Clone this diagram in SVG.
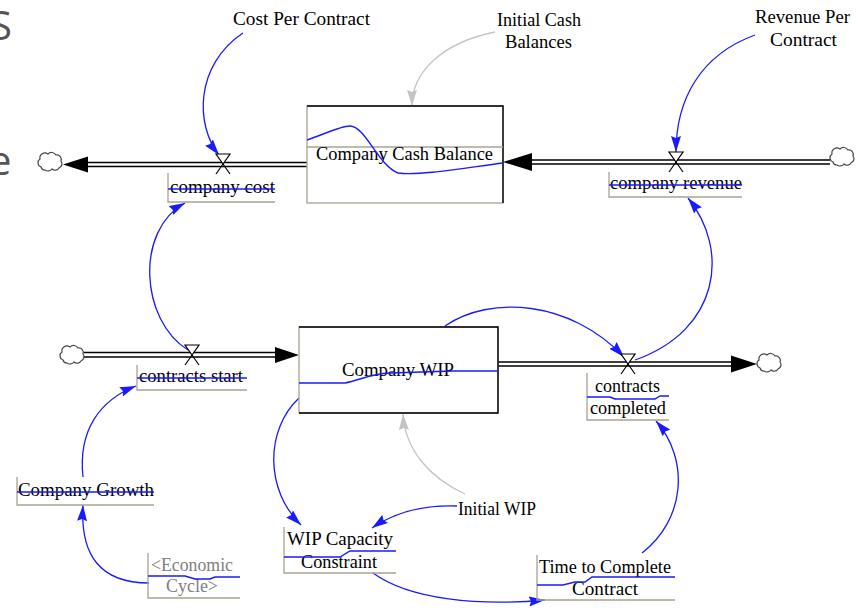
<svg xmlns="http://www.w3.org/2000/svg" xmlns:xlink="http://www.w3.org/1999/xlink" width="862" height="608" viewBox="0 0 862 608">
  <style>
    text.lbl { font-family: 'Liberation Serif', 'DejaVu Serif', serif; font-size: 18px; fill: #000; }
    text.ghost { fill: #808080; }
    text.edge { font-family: 'Open Sans', 'Noto Sans', sans-serif; font-size: 40px; fill: #555; }
    .box { fill: none; stroke: #a8a490; stroke-width: 1.3; }
    .strike { fill: none; stroke: #1a1aff; stroke-width: 1.4; }
    .link { fill: none; stroke: #1a1aff; stroke-width: 1.3; }
    .init { fill: none; stroke: #c4c4c4; stroke-width: 1.3; }
    .pipe { fill: none; stroke: #000; stroke-width: 1.6; }
    .valve { fill: #fff; stroke: #000; stroke-width: 1.2; }
    .cloud { fill: #fff; stroke: #444; stroke-width: 1.2; }
  </style>
  <defs>
    <marker id="ab" viewBox="0 0 16 10" refX="16" refY="5" markerWidth="16" markerHeight="10" markerUnits="userSpaceOnUse" orient="auto">
      <path d="M0,0 L16,5 L0,10 L2,5 z" fill="#1a1aff"/>
    </marker>
    <marker id="ag" viewBox="0 0 16 10" refX="16" refY="5" markerWidth="16" markerHeight="10" markerUnits="userSpaceOnUse" orient="auto">
      <path d="M0,0 L16,5 L0,10 L2,5 z" fill="#c4c4c4"/>
    </marker>
    <path id="cloudShape" class="cloud" d="M-9,5 a4.5,4.5 0 0 1 -1,-8 a5,5 0 0 1 8,-5 a5,5 0 0 1 8,1 a4.5,4.5 0 0 1 5,6 a4.5,4.5 0 0 1 -2,7 a4.5,4.5 0 0 1 -7,1 a5,5 0 0 1 -7,1 a4,4 0 0 1 -4,-3 z"/>
    <g id="valveShape">
      <path class="valve" d="M-7,-10 H7 L0,0 Z"/>
      <path class="valve" d="M0,0 L-7,10 M0,0 L7,10"/>
    </g>
  </defs>

  <rect width="862" height="608" fill="#fff"/>

  <!-- clipped slide lettering at the left margin -->
  <text class="edge" x="-10" y="40">S</text>
  <text class="edge" x="-11" y="175">e</text>

  <!-- flows, information links and initial-value links -->
  <g id="connectors">
    <!-- company cost: stock to sink -->
    <path class="pipe" d="M307,162.5 H86 M307,166.5 H86"/>
    <path d="M63,164.5 L88,156.5 L88,172.5 z" fill="#000"/>
    <!-- company revenue: source to stock -->
    <path class="pipe" d="M830,160 H530 M830,164 H530"/>
    <path d="M503,162 L532,153 L532,171 z" fill="#000"/>
    <!-- contracts start: source to stock -->
    <path class="pipe" d="M84,352.5 H277 M84,357 H277"/>
    <path d="M299,355 L275,347 L275,363 z" fill="#000"/>
    <!-- contracts completed: stock to sink -->
    <path class="pipe" d="M498,362 H733 M498,366 H733"/>
    <path d="M757,364 L731,355.5 L731,372.5 z" fill="#000"/>

    <path class="link" marker-end="url(#ab)" d="M243,33 C195,65 195,125 219,155"/>
    <path class="init" marker-end="url(#ag)" d="M495,32 C445,42 412,70 412,106"/>
    <path class="link" marker-end="url(#ab)" d="M755,35 C700,55 676,100 676,152"/>
    <path class="link" marker-end="url(#ab)" d="M188,350 C140,320 135,230 185,203"/>
    <path class="link" marker-end="url(#ab)" d="M83,477 C78,430 100,400 136,386"/>
    <path class="link" marker-end="url(#ab)" d="M149,583 C100,583 80,555 83,505"/>
    <path class="link" marker-end="url(#ab)" d="M445,326 C490,295 570,300 624,357"/>
    <path class="link" marker-end="url(#ab)" d="M635,360 C720,330 730,250 688,198"/>
    <path class="link" marker-end="url(#ab)" d="M299,398 C265,430 265,490 301,525"/>
    <path class="link" marker-end="url(#ab)" d="M457,506 C425,505 395,512 372,528"/>
    <path class="init" marker-end="url(#ag)" d="M465,494 C430,478 405,450 403,414"/>
    <path class="link" marker-end="url(#ab)" d="M373,573 C410,600 480,606 545,600"/>
    <path class="link" marker-end="url(#ab)" d="M642,553 C685,520 690,460 656,421"/>
  </g>

  <!-- sources and sinks -->
  <g id="cloud-cost-sink"><use xlink:href="#cloudShape" href="#cloudShape" transform="translate(50,162)"/></g>
  <g id="cloud-revenue-source"><use xlink:href="#cloudShape" href="#cloudShape" transform="translate(842,157)"/></g>
  <g id="cloud-start-source"><use xlink:href="#cloudShape" href="#cloudShape" transform="translate(72,355)"/></g>
  <g id="cloud-completed-sink"><use xlink:href="#cloudShape" href="#cloudShape" transform="translate(769,363)"/></g>

  <!-- stocks -->
  <g id="company-cash-balance">
    <rect x="307" y="106" width="196" height="97" fill="#fff" stroke="#a8a490" stroke-width="1.3"/>
    <path d="M307,106 H503 V203" fill="none" stroke="#000" stroke-width="1.4"/>
    <line x1="307" y1="147" x2="503" y2="147" stroke="#a8a490" stroke-width="1.3"/>
    <text class="lbl" x="316" y="160" textLength="177" lengthAdjust="spacingAndGlyphs">Company Cash Balance</text>
    <path class="strike" d="M307,140 C325,134 340,126 350,126 C365,126 378,165 398,173 C420,176 470,167 503,163"/>
  </g>
  <g id="company-wip">
    <rect x="299" y="327" width="199" height="86" fill="#fff" stroke="#a8a490" stroke-width="1.3"/>
    <path d="M299,327 H498 V413 H299" fill="none" stroke="#000" stroke-width="1.4"/>
    <text class="lbl" x="342" y="376" textLength="112" lengthAdjust="spacingAndGlyphs">Company WIP</text>
    <path class="strike" d="M299,383 H345 C360,380 370,374 390,373 L453,371 H498"/>
  </g>

  <!-- rates -->
  <g id="company-cost">
    <use xlink:href="#valveShape" href="#valveShape" transform="translate(223,164)"/>
    <path class="box" d="M168,173 V202 H275"/>
    <text class="lbl" x="170" y="193" textLength="105" lengthAdjust="spacingAndGlyphs">company cost</text>
    <line class="strike" x1="168" y1="189" x2="275" y2="189"/>
  </g>
  <g id="company-revenue">
    <use xlink:href="#valveShape" href="#valveShape" transform="translate(676,162)"/>
    <path class="box" d="M609,172 V197 H742"/>
    <text class="lbl" x="610" y="189" textLength="132" lengthAdjust="spacingAndGlyphs">company revenue</text>
    <line class="strike" x1="609" y1="185" x2="742" y2="185"/>
  </g>
  <g id="contracts-start">
    <use xlink:href="#valveShape" href="#valveShape" transform="translate(192,355)"/>
    <path class="box" d="M137,365 V390 H247"/>
    <text class="lbl" x="139" y="382" textLength="104" lengthAdjust="spacingAndGlyphs">contracts start</text>
    <line class="strike" x1="137" y1="378" x2="247" y2="378"/>
  </g>
  <g id="contracts-completed">
    <use xlink:href="#valveShape" href="#valveShape" transform="translate(628,364)"/>
    <path class="box" d="M587,373 V420 H669"/>
    <text class="lbl" x="595" y="392" textLength="65" lengthAdjust="spacingAndGlyphs">contracts</text>
    <text class="lbl" x="590" y="414" textLength="76" lengthAdjust="spacingAndGlyphs">completed</text>
    <path class="strike" d="M587,397 H610 L615,399 H655 L660,396 H669"/>
  </g>

  <!-- auxiliaries and constants -->
  <g id="cost-per-contract">
    <text class="lbl" x="233" y="25" textLength="137" lengthAdjust="spacingAndGlyphs">Cost Per Contract</text>
  </g>
  <g id="initial-cash-balances">
    <text class="lbl" x="497" y="26" textLength="84" lengthAdjust="spacingAndGlyphs">Initial Cash</text>
    <text class="lbl" x="505" y="48" textLength="67" lengthAdjust="spacingAndGlyphs">Balances</text>
  </g>
  <g id="revenue-per-contract">
    <text class="lbl" x="755" y="23" textLength="95" lengthAdjust="spacingAndGlyphs">Revenue Per</text>
    <text class="lbl" x="770" y="46" textLength="67" lengthAdjust="spacingAndGlyphs">Contract</text>
  </g>
  <g id="company-growth">
    <path class="box" d="M17,477 V505 H154"/>
    <text class="lbl" x="18" y="496" textLength="136" lengthAdjust="spacingAndGlyphs">Company Growth</text>
    <line class="strike" x1="17" y1="492" x2="154" y2="492"/>
  </g>
  <g id="economic-cycle">
    <path class="box" d="M148,553 V598 H240"/>
    <text class="lbl ghost" x="151" y="571" textLength="82" lengthAdjust="spacingAndGlyphs">&lt;Economic</text>
    <text class="lbl ghost" x="166" y="592" textLength="52" lengthAdjust="spacingAndGlyphs">Cycle&gt;</text>
    <path class="strike" d="M148,576 H185 L195,579 H210 L215,577 H240"/>
  </g>
  <g id="wip-capacity-constraint">
    <path class="box" d="M284,527 V573 H396"/>
    <text class="lbl" x="287" y="545" textLength="106" lengthAdjust="spacingAndGlyphs">WIP Capacity</text>
    <text class="lbl" x="301" y="568" textLength="76" lengthAdjust="spacingAndGlyphs">Constraint</text>
    <path class="strike" d="M284,557 H340 L350,551 H396"/>
  </g>
  <g id="time-to-complete-contract">
    <path class="box" d="M537,555 V600 H675"/>
    <text class="lbl" x="539" y="573" textLength="132" lengthAdjust="spacingAndGlyphs">Time to Complete</text>
    <text class="lbl" x="572" y="595" textLength="66" lengthAdjust="spacingAndGlyphs">Contract</text>
    <path class="strike" d="M537,585 H563 L575,582 H585 L592,577 H675"/>
  </g>
  <g id="initial-wip">
    <text class="lbl" x="458" y="515" textLength="78" lengthAdjust="spacingAndGlyphs">Initial WIP</text>
  </g>
</svg>
